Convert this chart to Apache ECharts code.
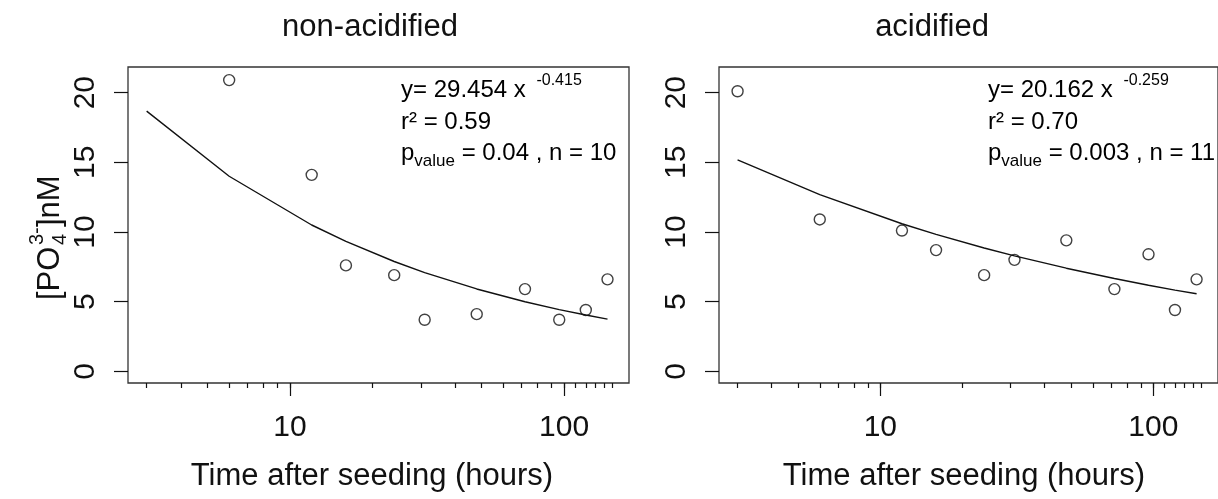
<!DOCTYPE html>
<html>
<head>
<meta charset="utf-8">
<script src="https://cdn.jsdelivr.net/npm/echarts@6/dist/echarts.min.js"></script>
<style>
html,body{margin:0;padding:0;background:#fff;}
#chart{width:1218px;height:499px;}
</style>
</head>
<body>
<div id="chart"></div>
<script>
// ---- data ----
var nonAcidTimes = [6, 12, 16, 24, 31, 48, 72, 96, 120, 144];
var nonAcidPO4   = [20.9, 14.1, 7.6, 6.9, 3.7, 4.1, 5.9, 3.7, 4.4, 6.6];
var acidTimes    = [3, 6, 12, 16, 24, 31, 48, 72, 96, 120, 144];
var acidPO4      = [20.1, 10.9, 10.1, 8.7, 6.9, 8.0, 9.4, 5.9, 8.4, 4.4, 6.6];
var fitTimes     = [3, 6, 12, 16, 24, 31, 48, 72, 96, 120, 144];
var nonAcidFit   = [18.67, 14.00, 10.50, 9.32, 7.88, 7.08, 5.91, 4.99, 4.43, 4.04, 3.74];
var acidFit      = [15.17, 12.68, 10.59, 9.83, 8.85, 8.28, 7.40, 6.66, 6.18, 5.83, 5.57];
var xMinorTicks  = [3, 4, 5, 6, 7, 8, 9, 10, 20, 30, 40, 50, 60, 70, 80, 90, 100, 110, 120, 130, 140, 150];
var xMajorTicks  = [10, 100];
var yTicks       = [0, 5, 10, 15, 20];
var panelTitles  = ['non-acidified', 'acidified'];
var xTitle       = 'Time after seeding (hours)';
var fitText = [
  {a: '29.454', b: '-0.415', r2: '0.59', p: '0.04', n: '10'},
  {a: '20.162', b: '-0.259', r2: '0.70', p: '0.003', n: '11'}
];

var FONT = '"Liberation Sans", Arial, Helvetica, sans-serif';
var INK = '#111';
var XMIN = 2.565, XMAX = 172.5;
var YMIN = -0.84, YMAX = 21.84;
var TICKFONT = 30, TITLEFONT = 31, ANNFONT = 24;

function zip(a, b) { return a.map(function (v, i) { return [v, b[i]]; }); }

var grids = [
  {left: 128, top: 67, width: 501, height: 316},
  {left: 719, top: 67, width: 501, height: 316}
];

var xAxes = [], yAxes = [], series = [];
for (var g = 0; g < 2; g++) {
  xAxes.push({
    type: 'log', logBase: 10, gridIndex: g, min: XMIN, max: XMAX, position: 'bottom',
    axisLine: {show: false, onZero: false},
    axisTick: {show: true, length: 5, customValues: xMinorTicks, lineStyle: {color: INK, width: 1.2}},
    axisLabel: {show: false}, splitLine: {show: false}
  });
  xAxes.push({
    type: 'log', logBase: 10, gridIndex: g, min: XMIN, max: XMAX, position: 'bottom',
    axisLine: {show: false, onZero: false},
    axisTick: {show: true, length: 13, customValues: xMajorTicks, lineStyle: {color: INK, width: 1.2}},
    axisLabel: {show: true, customValues: xMajorTicks, margin: 30, fontSize: TICKFONT, fontFamily: FONT, color: INK},
    splitLine: {show: false}
  });
  yAxes.push({
    type: 'value', gridIndex: g, min: YMIN, max: YMAX, position: 'left',
    axisLine: {show: false, onZero: false},
    axisTick: {show: true, length: 14, customValues: yTicks, lineStyle: {color: INK, width: 1.2}},
    axisLabel: {show: true, customValues: yTicks, rotate: 90, margin: 27, fontSize: TICKFONT, fontFamily: FONT, color: INK},
    splitLine: {show: false}
  });
}
grids.forEach(function (gr) { gr.show = true; gr.borderColor = '#333'; gr.borderWidth = 1.3; gr.backgroundColor = 'transparent'; });

series.push({
  type: 'line', xAxisIndex: 0, yAxisIndex: 0, data: zip(fitTimes, nonAcidFit),
  showSymbol: false, symbol: 'none', lineStyle: {color: INK, width: 1.4}, silent: true
});
series.push({
  type: 'scatter', xAxisIndex: 0, yAxisIndex: 0, data: zip(nonAcidTimes, nonAcidPO4),
  symbol: 'circle', symbolSize: 11,
  itemStyle: {color: 'rgba(0,0,0,0)', borderColor: INK, borderWidth: 1.4}
});
series.push({
  type: 'line', xAxisIndex: 2, yAxisIndex: 1, data: zip(fitTimes, acidFit),
  showSymbol: false, symbol: 'none', lineStyle: {color: INK, width: 1.4}, silent: true
});
series.push({
  type: 'scatter', xAxisIndex: 2, yAxisIndex: 1, data: zip(acidTimes, acidPO4),
  symbol: 'circle', symbolSize: 11,
  itemStyle: {color: 'rgba(0,0,0,0)', borderColor: INK, borderWidth: 1.4}
});

var rich = {
  t: {fontSize: ANNFONT, fontFamily: FONT, color: INK, lineHeight: 34, verticalAlign: 'middle'},
  sup: {fontSize: 16, fontFamily: FONT, color: INK, lineHeight: 16, verticalAlign: 'top', padding: [0, 0, 0, 4]},
  sub: {fontSize: 17, fontFamily: FONT, color: INK, lineHeight: 17, verticalAlign: 'bottom'}
};

var graphics = [];
var annX = [401, 988];
var titleX = [370, 932];
var xTitleX = [372, 964];
var rowY = [90, 122, 153];
for (var k = 0; k < 2; k++) {
  var f = fitText[k];
  graphics.push({type: 'text', x: annX[k], y: rowY[0], style: {
    text: '{t|y= ' + f.a + ' x }{sup|' + f.b + '}', rich: rich, verticalAlign: 'middle'}});
  graphics.push({type: 'text', x: annX[k], y: rowY[1], style: {
    text: '{t|r² = ' + f.r2 + '}', rich: rich, verticalAlign: 'middle'}});
  graphics.push({type: 'text', x: annX[k], y: rowY[2], style: {
    text: '{t|p}{sub|value}{t| = ' + f.p + ' , n = ' + f.n + '}', rich: rich, verticalAlign: 'middle'}});
  graphics.push({type: 'text', x: titleX[k], y: 27, style: {
    text: panelTitles[k], fontSize: TITLEFONT, fontFamily: FONT, fill: INK, align: 'center', verticalAlign: 'middle'}});
  graphics.push({type: 'text', x: xTitleX[k], y: 476, style: {
    text: xTitle, fontSize: TITLEFONT, fontFamily: FONT, fill: INK, align: 'center', verticalAlign: 'middle'}});
}
// y-axis title with stacked sub/superscript
graphics.push({
  type: 'group', x: 50, y: 228, rotation: Math.PI / 2,
  children: [
    {type: 'text', x: -72, y: 0, style: {text: '[PO', fontSize: TITLEFONT, fontFamily: FONT, fill: INK, align: 'left', verticalAlign: 'middle'}},
    {type: 'text', x: -17, y: 10, style: {text: '4', fontSize: 20, fontFamily: FONT, fill: INK, align: 'left', verticalAlign: 'middle'}},
    {type: 'text', x: -17, y: -13, style: {text: '3-', fontSize: 20, fontFamily: FONT, fill: INK, align: 'left', verticalAlign: 'middle'}},
    {type: 'text', x: 1, y: 0, style: {text: ']nM', fontSize: TITLEFONT, fontFamily: FONT, fill: INK, align: 'left', verticalAlign: 'middle'}}
  ]
});

var chart = echarts.init(document.getElementById('chart'), null, {renderer: 'canvas'});
chart.setOption({
  animation: false,
  backgroundColor: '#fff',
  grid: grids, xAxis: xAxes, yAxis: yAxes, series: series, graphic: graphics
});
</script>
</body>
</html>
